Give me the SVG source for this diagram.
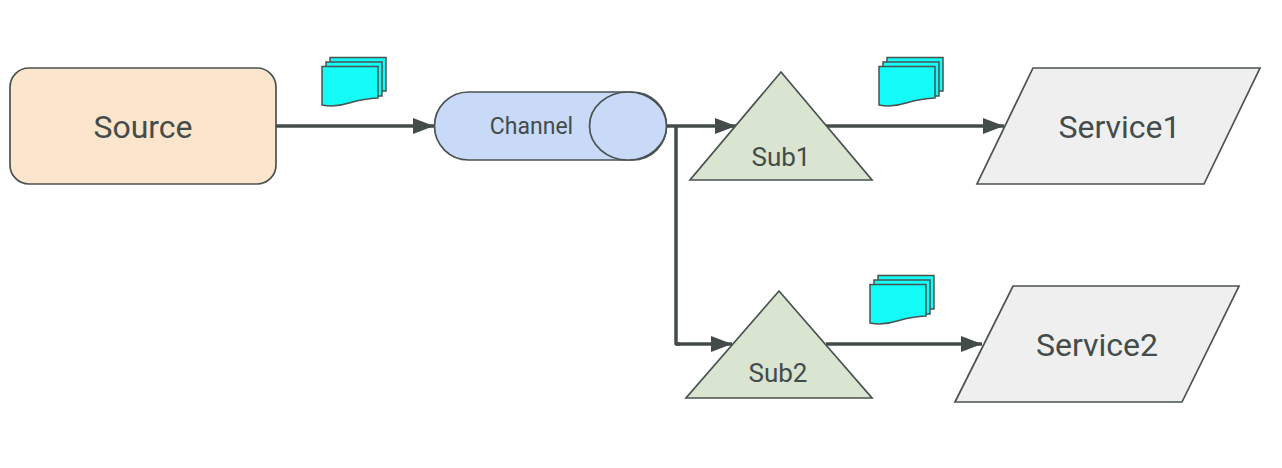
<svg xmlns="http://www.w3.org/2000/svg" width="1282" height="468" viewBox="0 0 1282 468">
<style>
text{font-family:"Roboto","Open Sans","Liberation Sans",sans-serif;fill:#434c4a;text-anchor:middle}
.s{stroke:#4a5250;stroke-width:1.7}
.c{fill:none;stroke:#434c4a;stroke-width:3.500;stroke-linejoin:round}
.doc{fill:#14fbf7;stroke:#4a5250;stroke-width:1.500}
.big{font-size:32px}
.mid{font-size:23px}
.sub{font-size:26px}
</style>
<defs>
<marker id="a" markerUnits="userSpaceOnUse" markerWidth="22" markerHeight="18" refX="21" refY="8" orient="auto"><path d="M0 0L21 8L0 16Z" fill="#434c4a"/></marker>
<g id="stack">
<path class="doc" d="M8 -1.500H64V32H8Z"/>
<path class="doc" d="M4 3H60V37H4Z"/>
<path class="doc" d="M0 7.500H56V39C42 39.500 34 42 27 44C18 47 8 47.500 0 46Z"/>
</g>
</defs>
<g id="connectors">
<path class="c" marker-end="url(#a)" d="M276 126H434"/>
<path class="c" marker-end="url(#a)" d="M667 126H736"/>
<path class="c" d="M676 126V344H680"/>
<path class="c" marker-end="url(#a)" d="M676 344H732"/>
<path class="c" marker-end="url(#a)" d="M826 126H1004"/>
<path class="c" marker-end="url(#a)" d="M826 344H982"/>
</g>
<g id="source"><rect class="s" x="10" y="68" width="266" height="116" rx="19" fill="#fce5cd"/><text class="big" x="143" y="138">Source</text></g>
<g id="channel"><rect class="s" x="434.500" y="92" width="232" height="68" rx="34" fill="#c9daf8"/><ellipse class="s" cx="628" cy="126" rx="38.500" ry="34" fill="#c9daf8"/><text class="mid" x="531.500" y="134">Channel</text></g>
<g id="sub1"><path class="s" d="M781 72L872 180H690Z" fill="#d9e4d1"/><text class="sub" x="781" y="166">Sub1</text></g>
<g id="sub2"><path class="s" d="M779 291L872 398H686Z" fill="#d9e4d1"/><text class="sub" x="778" y="382">Sub2</text></g>
<g id="service1"><path class="s" d="M1033 68H1260L1204 184H977Z" fill="#efefef"/><text class="big" x="1119.500" y="138">Service1</text></g>
<g id="service2"><path class="s" d="M1013 286H1239L1182 402H955Z" fill="#efefef"/><text class="big" x="1097" y="356">Service2</text></g>
<g id="docs1"><use href="#stack" x="322" y="59"/></g>
<g id="docs2"><use href="#stack" x="879" y="59"/></g>
<g id="docs3"><use href="#stack" x="870" y="277"/></g>
</svg>
